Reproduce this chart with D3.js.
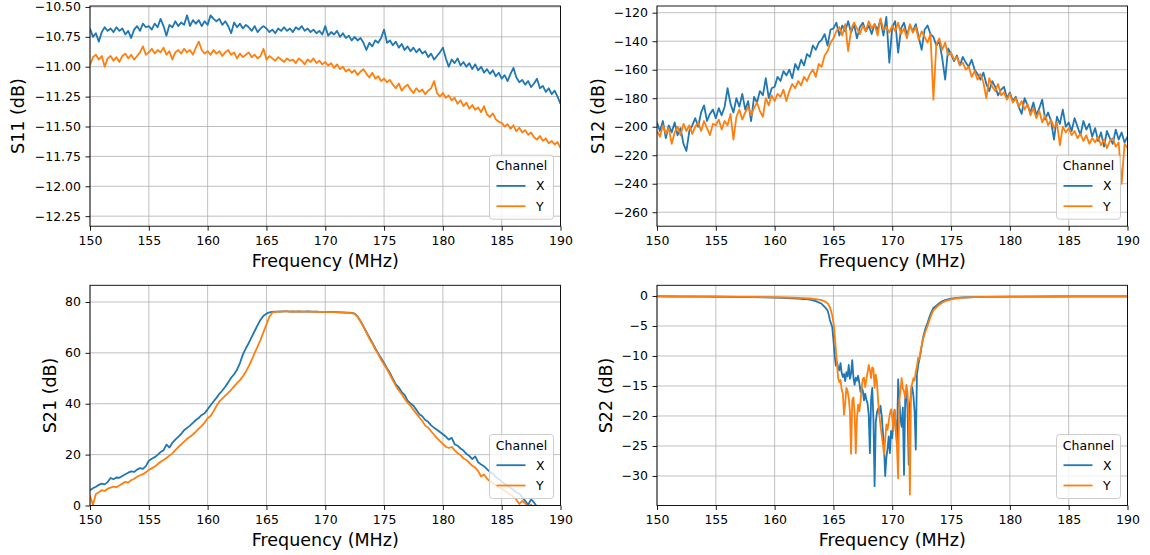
<!DOCTYPE html>
<html><head><meta charset="utf-8">
<script src="https://cdn.jsdelivr.net/npm/d3@7"></script>
<style>
html,body{margin:0;padding:0;background:#fff;}
svg{display:block;font-family:"DejaVu Sans",sans-serif;}
</style></head><body>
<svg id="chart" width="1150" height="555"></svg>
<script>
// Sweep grid for S11, S12, S21: 150 MHz to 190 MHz in 0.25 MHz steps
const freqStart = 150, freqStep = 0.25;

const channels = ["X", "Y"];
const channelColors = ["#1f77b4", "#ff7f0e"];

const freqTicks = [150, 155, 160, 165, 170, 175, 180, 185, 190];
const s11Ticks = [-12.25, -12.00, -11.75, -11.50, -11.25, -11.00, -10.75, -10.50];
const s12Ticks = [-260, -240, -220, -200, -180, -160, -140, -120];
const s21Ticks = [0, 20, 40, 60, 80];
const s22Ticks = [-30, -25, -20, -15, -10, -5, 0];

const s11X = [
-10.68,-10.75,-10.72,-10.79,-10.71,-10.67,-10.70,-10.68,-10.71,-10.67,-10.70,-10.68,-10.73,-10.70,-10.76,-10.69,-10.66,-10.70,-10.64,-10.67,
-10.66,-10.69,-10.64,-10.67,-10.60,-10.66,-10.74,-10.65,-10.67,-10.62,-10.66,-10.63,-10.65,-10.57,-10.66,-10.61,-10.64,-10.61,-10.66,-10.62,
-10.65,-10.57,-10.60,-10.62,-10.60,-10.65,-10.62,-10.66,-10.72,-10.63,-10.67,-10.64,-10.68,-10.65,-10.67,-10.70,-10.66,-10.71,-10.68,-10.66,
-10.68,-10.71,-10.69,-10.72,-10.68,-10.70,-10.67,-10.70,-10.68,-10.71,-10.67,-10.69,-10.66,-10.70,-10.68,-10.71,-10.69,-10.72,-10.70,-10.73,
-10.66,-10.74,-10.71,-10.73,-10.70,-10.75,-10.72,-10.76,-10.74,-10.78,-10.75,-10.78,-10.76,-10.80,-10.86,-10.80,-10.83,-10.78,-10.80,-10.76,
-10.69,-10.80,-10.78,-10.82,-10.79,-10.84,-10.81,-10.86,-10.83,-10.87,-10.84,-10.88,-10.85,-10.89,-10.87,-10.92,-10.89,-10.94,-10.91,-10.88,
-10.84,-10.93,-11.00,-10.94,-10.97,-10.93,-10.99,-10.96,-11.00,-10.97,-11.02,-10.98,-11.03,-11.00,-11.05,-11.02,-11.06,-11.03,-11.08,-11.05,
-11.10,-11.07,-11.12,-11.06,-11.01,-11.09,-11.13,-11.11,-11.15,-11.12,-11.17,-11.14,-11.10,-11.18,-11.16,-11.21,-11.18,-11.23,-11.20,-11.25,
-11.31];
const s11Y = [
-10.99,-10.92,-10.90,-10.94,-10.91,-11.00,-10.93,-10.91,-10.95,-10.92,-10.96,-10.91,-10.89,-10.93,-10.90,-10.94,-10.91,-10.88,-10.83,-10.90,
-10.88,-10.85,-10.89,-10.86,-10.88,-10.84,-10.90,-10.87,-10.94,-10.88,-10.86,-10.89,-10.85,-10.88,-10.86,-10.90,-10.84,-10.79,-10.86,-10.89,
-10.87,-10.90,-10.86,-10.89,-10.87,-10.91,-10.88,-10.86,-10.90,-10.88,-10.93,-10.89,-10.92,-10.90,-10.88,-10.92,-10.90,-10.93,-10.91,-10.85,
-10.94,-10.91,-10.93,-10.95,-10.92,-10.94,-10.96,-10.93,-10.95,-10.94,-10.97,-10.93,-10.95,-10.98,-10.94,-10.96,-10.93,-10.97,-10.95,-10.98,
-10.96,-10.99,-10.97,-11.01,-10.98,-11.02,-11.00,-11.04,-11.02,-11.05,-11.03,-11.07,-11.04,-11.02,-11.06,-11.09,-11.05,-11.10,-11.08,-11.12,
-11.10,-11.13,-11.11,-11.15,-11.18,-11.14,-11.20,-11.17,-11.15,-11.19,-11.22,-11.18,-11.21,-11.19,-11.23,-11.20,-11.18,-11.12,-11.22,-11.25,
-11.22,-11.26,-11.24,-11.28,-11.26,-11.31,-11.28,-11.33,-11.30,-11.35,-11.32,-11.36,-11.34,-11.38,-11.33,-11.40,-11.42,-11.39,-11.44,-11.46,
-11.47,-11.50,-11.48,-11.52,-11.49,-11.54,-11.51,-11.55,-11.53,-11.57,-11.55,-11.59,-11.61,-11.58,-11.62,-11.60,-11.64,-11.62,-11.65,-11.63,
-11.68];

const s12X = [
-197,-203,-196,-208,-199,-204,-197,-206,-201,-212,-217,-203,-199,-194,-200,-190,-185,-196,-191,-188,
-194,-187,-192,-186,-173,-184,-190,-180,-186,-177,-188,-182,-196,-179,-183,-175,-178,-166,-180,-173,
-172,-165,-168,-161,-164,-160,-166,-156,-160,-153,-157,-149,-151,-143,-146,-141,-139,-135,-143,-132,
-131,-127,-136,-129,-133,-126,-134,-128,-138,-130,-127,-133,-129,-135,-128,-132,-125,-136,-123,-155,
-130,-126,-148,-131,-127,-136,-129,-133,-128,-137,-146,-132,-129,-135,-137,-143,-140,-152,-167,-145,
-149,-154,-150,-157,-151,-155,-158,-153,-160,-163,-167,-162,-170,-175,-168,-172,-178,-174,-172,-180,
-176,-182,-179,-186,-191,-180,-185,-190,-183,-192,-187,-181,-195,-190,-196,-209,-193,-198,-188,-200,
-197,-203,-194,-200,-206,-196,-202,-198,-207,-201,-210,-204,-214,-203,-208,-212,-202,-209,-204,-211,
-207];
const s12Y = [
-203,-207,-199,-205,-201,-212,-204,-200,-206,-198,-203,-199,-205,-200,-197,-203,-196,-201,-206,-198,
-199,-195,-202,-196,-199,-191,-209,-193,-188,-195,-190,-186,-192,-187,-183,-189,-193,-180,-185,-178,
-182,-177,-179,-174,-182,-175,-170,-173,-168,-171,-165,-168,-163,-160,-165,-156,-158,-150,-147,-141,
-138,-133,-130,-136,-128,-147,-132,-127,-131,-135,-129,-133,-126,-131,-128,-136,-124,-132,-130,-134,
-129,-133,-127,-135,-131,-138,-128,-134,-130,-139,-133,-137,-141,-135,-181,-142,-138,-146,-141,-150,
-148,-153,-151,-157,-155,-160,-158,-165,-161,-167,-163,-169,-180,-166,-172,-175,-170,-178,-176,-181,
-177,-183,-180,-186,-182,-188,-184,-192,-187,-194,-189,-197,-192,-199,-195,-201,-197,-213,-200,-204,
-201,-206,-203,-208,-205,-210,-206,-212,-208,-211,-207,-213,-209,-215,-210,-208,-214,-211,-240,-212,
-215];

const s21X = [
6.0,6.8,7.4,8.1,8.6,8.3,9.2,10.8,10.3,11.0,10.9,11.6,12.3,12.9,13.4,13.2,14.1,14.7,14.4,15.5,
17.6,18.4,19.0,19.9,21.0,21.7,23.9,22.8,24.6,25.9,27.0,28.1,29.6,30.5,31.4,32.5,33.6,34.4,35.6,36.3,
37.8,39.4,40.9,42.3,43.9,45.2,46.7,48.4,50.2,51.6,53.4,56.0,59.4,61.8,63.9,66.3,68.6,70.9,73.0,74.6,
75.4,75.9,76.1,76.2,76.2,76.2,76.3,76.3,76.2,76.3,76.2,76.3,76.2,76.2,76.3,76.2,76.2,76.2,76.1,76.1,
76.1,76.0,76.1,76.0,76.0,75.9,75.9,75.8,75.8,75.7,75.4,74.3,72.4,70.4,68.2,66.1,64.0,61.8,59.8,57.9,
56.0,54.0,52.1,49.8,47.6,46.4,44.6,43.5,41.2,40.1,39.2,37.6,35.9,35.1,33.6,32.9,31.5,30.6,29.8,28.9,
28.0,27.1,25.9,26.6,24.1,23.5,22.4,21.6,20.3,19.5,18.2,19.3,17.0,16.1,15.4,14.3,13.2,12.6,11.2,10.3,
9.4,8.5,7.8,7.0,6.2,5.1,4.6,3.2,1.8,0.3,2.4,1.2,-0.5,-1.8,-3.0,-3.9,-4.8,-5.7,-6.4,-7.2,
-8.0];
const s21Y = [
3.8,0.2,4.5,5.2,6.0,5.7,6.6,7.0,7.4,7.2,7.9,8.6,9.3,9.0,9.9,10.5,11.3,11.9,12.3,13.1,
14.0,14.6,15.3,16.2,17.2,17.9,18.7,19.6,20.5,21.8,22.9,24.0,25.1,26.2,27.0,27.9,29.0,30.2,31.3,32.6,
34.3,35.2,37.0,39.1,40.9,42.0,43.2,44.3,45.5,46.8,48.1,49.3,50.8,52.6,54.8,57.2,60.0,62.5,65.1,68.2,
71.2,74.2,75.8,76.1,76.2,76.3,76.3,76.3,76.2,76.3,76.2,76.3,76.2,76.2,76.3,76.2,76.1,76.2,76.1,76.1,
76.1,76.0,76.0,76.0,75.9,75.9,75.8,75.8,75.7,75.6,75.3,74.2,72.3,70.2,68.0,65.6,63.7,61.4,59.5,57.3,
55.4,53.6,51.4,49.2,47.0,45.2,43.8,42.0,40.4,39.2,37.6,36.1,34.6,33.2,31.4,30.6,29.2,27.8,26.5,25.3,
24.2,23.1,22.6,23.0,21.8,20.6,19.8,18.5,17.9,16.8,15.6,14.9,13.5,11.4,12.2,10.6,9.5,8.8,7.9,7.2,
6.6,5.8,5.0,4.2,3.4,2.3,0.6,1.8,0.9,-0.8,0.4,-1.6,-2.4,-3.3,-4.0,-4.8,-5.6,-6.5,-7.2,-8.0,
-8.8];

// S22 is sampled coarsely on the flat skirts and at 0.1 MHz through the passband
const s22FreqLow = [150,151,152,153,154,155,156,157,158,159,160,161,162,162.5,163,163.5,164,164.25];
const s22FreqBand = d3.range(1645, 1736).map(k => k / 10);
const s22FreqHigh = [173.75,174,174.25,174.5,175,175.5,176,177,178,180,182,184,186,188,190];
const s22Freq = s22FreqLow.concat(s22FreqBand, s22FreqHigh);

const s22X = [
-0.08,-0.09,-0.10,-0.11,-0.12,-0.13,-0.15,-0.17,-0.20,-0.23,-0.28,-0.34,-0.43,-0.50,-0.62,-0.85,-1.30,-1.80,
-2.4,-3.1,-4.0,-4.6,-5.2,-7.3,-9.8,-11.6,-11.0,-11.9,
-12.4,-11.2,-12.8,-13.5,-13.0,-14.2,-12.7,-13.4,-11.5,-13.8,
-12.9,-10.7,-13.6,-14.8,-13.6,-14.1,-13.3,-14.5,-16.0,-15.2,
-15.8,-17.4,-16.3,-17.3,-17.9,-19.8,-26.2,-17.3,-15.3,-20.6,
-31.7,-21.0,-19.4,-18.8,-19.6,-18.3,-19.9,-22.6,-25.1,-30.0,
-27.0,-25.5,-23.4,-26.2,-22.5,-23.7,-20.4,-19.0,-22.1,-24.5,
-13.9,-17.4,-20.5,-21.8,-18.6,-29.8,-17.2,-16.0,-18.9,-28.1,
-18.0,-16.3,-15.2,-16.7,-19.3,-25.6,-13.1,-11.6,-10.6,-9.6,
-8.4,-7.2,-6.3,-5.6,-5.0,-4.5,-3.9,-3.3,-2.8,-2.4,
-2.0,
-1.6,-1.2,-0.9,-0.7,-0.45,-0.32,-0.25,-0.18,-0.15,-0.12,-0.10,-0.09,-0.08,-0.08,-0.07];
const s22Y = [
-0.06,-0.07,-0.08,-0.09,-0.10,-0.11,-0.12,-0.14,-0.16,-0.18,-0.21,-0.25,-0.31,-0.35,-0.42,-0.52,-0.70,-0.90,
-1.2,-1.5,-1.9,-2.5,-3.3,-4.4,-6.3,-8.8,-11.2,-13.7,
-14.4,-14.0,-15.6,-16.3,-19.8,-17.9,-15.3,-15.8,-17.0,-19.2,
-26.3,-17.4,-16.9,-19.6,-26.2,-20.4,-18.1,-19.2,-17.6,-15.3,
-13.8,-13.6,-15.2,-13.9,-12.8,-11.5,-12.4,-13.7,-11.9,-12.1,
-15.3,-13.1,-14.4,-17.5,-19.8,-21.6,-23.1,-24.7,-26.4,-24.0,
-21.4,-22.3,-20.9,-19.6,-18.9,-20.3,-22.5,-19.0,-21.8,-25.2,
-30.4,-17.3,-15.9,-13.7,-15.4,-15.9,-17.0,-14.8,-16.1,-20.5,
-33.1,-15.3,-14.6,-13.7,-14.1,-12.6,-11.8,-10.3,-10.6,-9.2,
-8.3,-7.3,-6.7,-6.0,-5.5,-5.0,-4.4,-3.8,-3.3,-2.8,
-2.4,
-1.9,-1.45,-1.1,-0.85,-0.55,-0.38,-0.28,-0.2,-0.17,-0.14,-0.12,-0.11,-0.10,-0.10,-0.10];

const sweep = vals => vals.map((v, i) => [freqStart + i * freqStep, v]);
const withFreq = (f, vals) => vals.map((v, i) => [f[i], v]);

const panels = [
  { label: "S11 (dB)", left: 90,  top: 6,     yDomain: [-12.334, -10.492], ticks: s11Ticks, fmt: d3.format(".2f"),
    series: [sweep(s11X), sweep(s11Y)], labelX: 17.6 },
  { label: "S12 (dB)", left: 657, top: 6,     yDomain: [-269.8, -115.3],   ticks: s12Ticks, fmt: d3.format("d"),
    series: [sweep(s12X), sweep(s12Y)], labelX: 597.4 },
  { label: "S21 (dB)", left: 90,  top: 285.3, yDomain: [0, 86.56],         ticks: s21Ticks, fmt: d3.format("d"),
    series: [sweep(s21X), sweep(s21Y)], labelX: 50 },
  { label: "S22 (dB)", left: 657, top: 285.3, yDomain: [-34.92, 1.78],     ticks: s22Ticks, fmt: d3.format("d"),
    series: [withFreq(s22Freq, s22X), withFreq(s22Freq, s22Y)], labelX: 605.5 }
];

const W = 470.5, H = 220.2;
const svg = d3.select("#chart");
const tickFont = 12.5, labelFont = 17.5;

panels.forEach((p, pi) => {
  const x = d3.scaleLinear().domain([150, 190]).range([0, W]);
  const y = d3.scaleLinear().domain(p.yDomain).range([H, 0]);
  const g = svg.append("g").attr("transform", `translate(${p.left},${p.top})`);

  const clipId = "clip" + pi;
  g.append("clipPath").attr("id", clipId).append("rect").attr("width", W).attr("height", H);

  // grid
  const grid = g.append("g").attr("stroke", "#b0b0b0").attr("stroke-width", 0.8);
  grid.selectAll(".gx").data(freqTicks).join("line")
    .attr("x1", d => x(d)).attr("x2", d => x(d)).attr("y1", 0).attr("y2", H);
  grid.selectAll(".gy").data(p.ticks).join("line")
    .attr("x1", 0).attr("x2", W).attr("y1", d => y(d)).attr("y2", d => y(d));

  // traces
  const line = d3.line().x(d => x(d[0])).y(d => y(d[1]));
  const traces = g.append("g").attr("clip-path", `url(#${clipId})`);
  p.series.forEach((s, si) => {
    traces.append("path").datum(s).attr("d", line)
      .attr("fill", "none").attr("stroke", channelColors[si])
      .attr("stroke-width", 1.8).attr("stroke-linejoin", "round");
  });

  // axes
  const xAxis = g.append("g").attr("transform", `translate(0,${H})`)
    .call(d3.axisBottom(x).tickValues(freqTicks).tickFormat(d3.format("d")).tickSize(4.5).tickPadding(5.5));
  const yAxis = g.append("g")
    .call(d3.axisLeft(y).tickValues(p.ticks).tickFormat(p.fmt).tickSize(4.5).tickPadding(4.5));
  [xAxis, yAxis].forEach(a => {
    a.select(".domain").remove();
    a.selectAll("line").attr("stroke", "#000").attr("stroke-width", 0.9);
    a.selectAll("text").attr("font-size", tickFont).attr("fill", "#000")
      .attr("font-family", "DejaVu Sans, sans-serif");
  });

  // frame
  g.append("rect").attr("width", W).attr("height", H)
    .attr("fill", "none").attr("stroke", "#000").attr("stroke-width", 0.9);

  // axis titles
  g.append("text").attr("x", W / 2).attr("y", 260.5).attr("text-anchor", "middle")
    .attr("font-size", labelFont).attr("fill", "#000").text("Frequency (MHz)");
  svg.append("text")
    .attr("transform", `translate(${p.labelX},${p.top + H / 2}) rotate(-90)`)
    .attr("text-anchor", "middle").attr("dy", "0.35em")
    .attr("font-size", labelFont).attr("fill", "#000").text(p.label);

  // legend
  const lw = 64, lh = 64;
  const lg = g.append("g").attr("transform", `translate(${W - 7 - lw},${H - 7 - lh})`);
  lg.append("rect").attr("width", lw).attr("height", lh).attr("rx", 3)
    .attr("fill", "#fff").attr("fill-opacity", 0.8).attr("stroke", "#cccccc").attr("stroke-width", 1);
  lg.append("text").attr("x", lw / 2).attr("y", 15).attr("text-anchor", "middle")
    .attr("font-size", tickFont).attr("fill", "#000").text("Channel");
  channels.forEach((c, ci) => {
    const ly = 30.7 + ci * 20.3;
    lg.append("line").attr("x1", 7).attr("x2", 36).attr("y1", ly).attr("y2", ly)
      .attr("stroke", channelColors[ci]).attr("stroke-width", 1.8);
    lg.append("text").attr("x", 46.5).attr("y", ly + 4.6)
      .attr("font-size", tickFont).attr("fill", "#000").text(c);
  });
});
</script>
</body></html>
